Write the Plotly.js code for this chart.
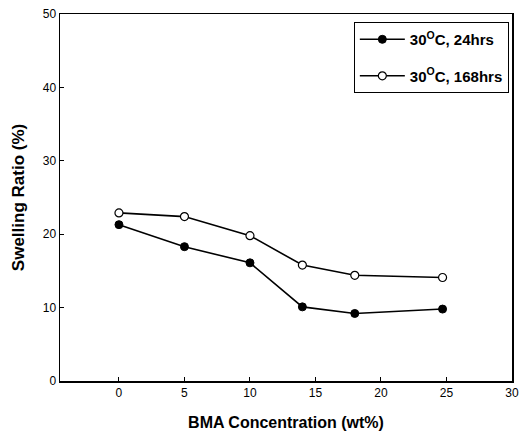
<!DOCTYPE html>
<html><head><meta charset="utf-8">
<script src="https://cdn.plot.ly/plotly-3.0.1.min.js"></script>
<style>body{margin:0;background:#fff}#c{width:522px;height:442px}</style>
</head><body><div id="c"></div>
<script>
var bma = [0, 5, 10, 14, 18, 24.7];
var swell24 = [21.3, 18.3, 16.1, 10.1, 9.2, 9.8];
var swell168 = [22.9, 22.4, 19.8, 15.8, 14.4, 14.1];
var names = ["30<sup>O</sup>C, 24hrs", "30<sup>O</sup>C, 168hrs"];
var xTicks = [0, 5, 10, 15, 20, 25, 30];
var yTicks = [0, 10, 20, 30, 40, 50];

var font = "Liberation Sans, Arial, sans-serif";
var traces = [
  {x: bma, y: swell24, name: names[0], legendgroup: "a", mode: "lines+markers",
   line: {color: "#000", width: 1.6},
   marker: {symbol: "circle", size: 8, color: "#000", line: {color: "#000", width: 1}}},
  {x: bma, y: swell168, name: names[1], legendgroup: "b", mode: "lines+markers",
   line: {color: "#000", width: 1.6},
   marker: {symbol: "circle", size: 8, color: "#fff", line: {color: "#000", width: 1.2}}}
];
var layout = {
  width: 522, height: 442,
  margin: {l: 60, r: 10, t: 14, b: 61},
  paper_bgcolor: "#fff", plot_bgcolor: "#fff",
  font: {family: font, color: "#000", size: 12},
  showlegend: true,
  legend: {x: 0.993, y: 0.978, xanchor: "right", yanchor: "top",
    bordercolor: "#000", borderwidth: 1, bgcolor: "#fff",
    font: {family: font, size: 15, color: "#000", weight: "bold"},
    traceorder: "grouped", tracegroupgap: 14, itemwidth: 45},
  xaxis: {range: [-4.5, 30], tickvals: xTicks, ticktext: xTicks.map(String),
    ticks: "inside", ticklen: 4, tickcolor: "#000", showgrid: false, zeroline: false,
    showline: true, linecolor: "#000", linewidth: 1.5, mirror: true,
    tickfont: {size: 12, family: font},
    title: {text: "<b>BMA Concentration (wt%)</b>", font: {size: 16, family: font}, standoff: 18}},
  yaxis: {range: [0, 50], tickvals: yTicks, ticktext: yTicks.map(String),
    ticks: "inside", ticklen: 4, tickcolor: "#000", showgrid: false, zeroline: false,
    showline: true, linecolor: "#000", linewidth: 1.5, mirror: true,
    tickfont: {size: 12, family: font},
    title: {text: "<b>Swelling Ratio (%)</b>", font: {size: 17, family: font}, standoff: 14}}
};
Plotly.newPlot("c", traces, layout, {displayModeBar: false, staticPlot: true});
</script>
</body></html>
